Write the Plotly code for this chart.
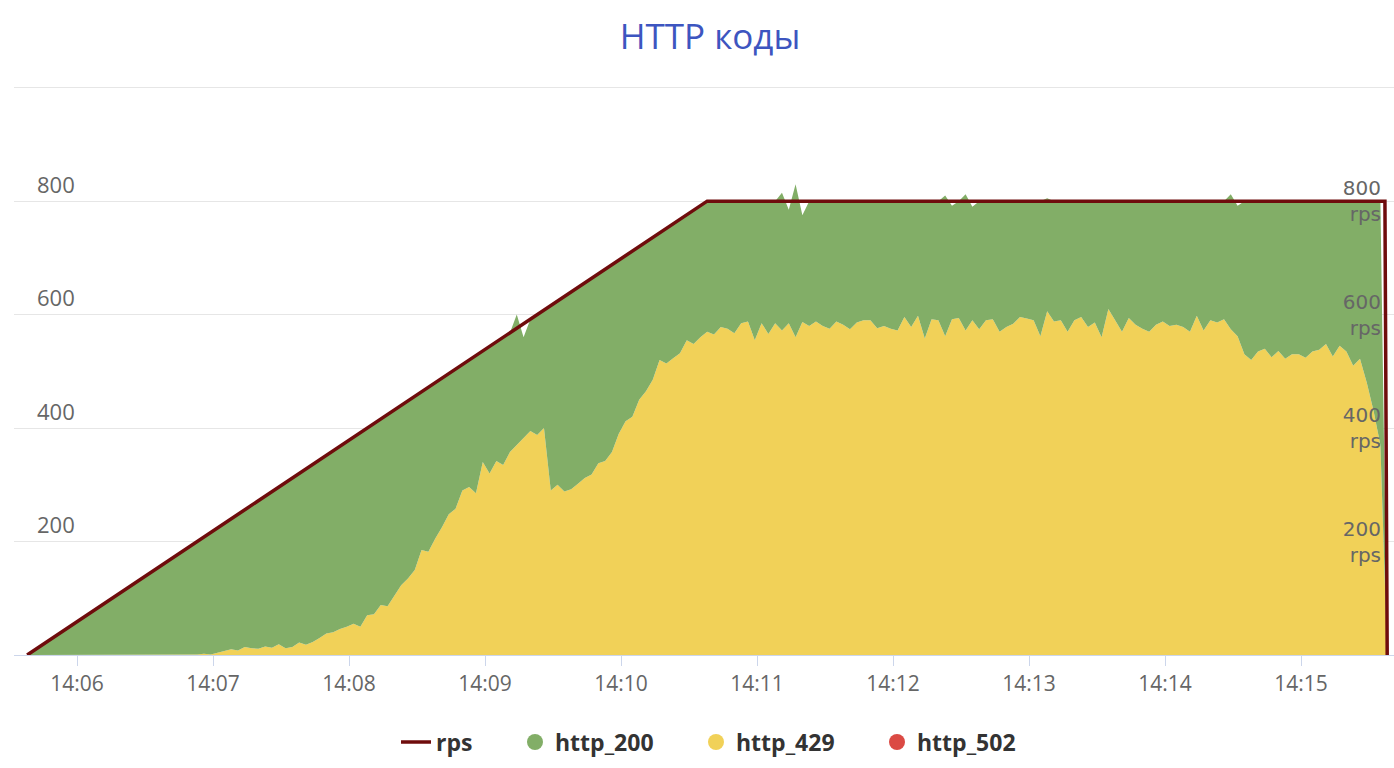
import pandas as pd
import plotly.graph_objects as go

DAY = "2024-01-01 "

# sample grid of the stacked series (every 3 s)
sample_times = pd.date_range(DAY + "14:05:38", periods=201, freq="3s")

http_429 = [
    0, 0, 0, 0, 0, 0, 0, 0, 0, 0,
    0, 0, 0, 0, 0, 0, 0, 0, 0, 0,
    0, 0, 0, 0, 0, 1, 2, 1, 4, 7,
    10, 8, 14, 12, 11, 15, 13, 19, 12, 14,
    22, 18, 23, 30, 38, 40, 46, 50, 55, 50,
    70, 72, 88, 86, 105, 123, 135, 150, 185, 182,
    205, 225, 248, 258, 290, 296, 285, 340, 320, 342,
    335, 358, 370, 382, 395, 388, 400, 290, 300, 288,
    292, 302, 312, 318, 338, 342, 358, 390, 412, 420,
    450, 465, 485, 520, 514, 523, 532, 555, 548, 560,
    570, 565, 578, 575, 567, 585, 588, 555, 585, 566,
    585, 572, 585, 560, 587, 580, 588, 580, 575, 588,
    582, 574, 586, 590, 590, 576, 580, 575, 572, 596,
    578, 598, 558, 592, 590, 562, 592, 594, 572, 590,
    574, 590, 592, 570, 578, 584, 596, 593, 590, 562,
    606, 588, 590, 570, 590, 596, 578, 586, 560, 610,
    590, 570, 594, 582, 575, 570, 582, 588, 580, 582,
    578, 570, 598, 572, 590, 586, 592, 574, 562, 530,
    520, 535, 540, 525, 536, 522, 530, 530, 524, 535,
    538, 548, 526, 545, 535, 510, 522, 480, 430, 370,
    0,
]

http_200 = [
    0, 8, 16, 24, 32, 40, 48, 56, 64, 72,
    80, 88, 96, 104, 112, 120, 128, 136, 144, 152,
    160, 168, 176, 184, 192, 199, 206, 215, 220, 225,
    230, 240, 242, 252, 261, 265, 275, 277, 292, 298,
    298, 310, 313, 314, 314, 320, 322, 326, 329, 342,
    330, 336, 328, 338, 327, 317, 313, 306, 279, 290,
    275, 263, 248, 246, 222, 224, 243, 196, 224, 210,
    225, 210, 230, 178, 197, 212, 208, 326, 324, 344,
    348, 346, 344, 346, 334, 338, 330, 306, 292, 292,
    270, 263, 251, 224, 238, 237, 236, 221, 236, 232,
    230, 235, 222, 225, 233, 215, 212, 245, 215, 234,
    215, 243, 200, 270, 188, 220, 212, 220, 225, 212,
    218, 226, 214, 210, 210, 224, 220, 225, 228, 204,
    222, 202, 242, 208, 210, 248, 200, 206, 240, 200,
    226, 210, 208, 230, 222, 216, 204, 207, 210, 238,
    199, 212, 210, 230, 210, 204, 222, 214, 240, 190,
    210, 230, 206, 218, 225, 230, 218, 212, 220, 218,
    222, 230, 202, 228, 210, 214, 208, 238, 230, 270,
    280, 265, 260, 275, 264, 278, 270, 270, 276, 265,
    262, 252, 274, 255, 265, 290, 278, 320, 370, 430,
    0,
]

http_502 = [0] * 201

rps_times = [DAY + "14:05:38", DAY + "14:10:38", DAY + "14:15:37", DAY + "14:15:38"]
rps_values = [0, 800, 800, 0]

left_ticks = [200, 400, 600, 800, 1000]
left_labels = ["200", "400", "600", "800", ""]
right_ticks = [200, 400, 600, 800]
right_labels = ["200<br>rps", "400<br>rps", "600<br>rps", "800<br>rps"]

GREEN = "#82ae67"
YELLOW = "#f1d158"
RED = "#db4a44"
DARKRED = "#6f0c0c"

fig = go.Figure()

fig.add_trace(go.Scatter(x=sample_times, y=http_429, stackgroup="codes", mode="lines",
                         line=dict(width=0, color=YELLOW), fillcolor=YELLOW,
                         showlegend=False, hoverinfo="skip"))
fig.add_trace(go.Scatter(x=sample_times, y=http_200, stackgroup="codes", mode="lines",
                         line=dict(width=0, color=GREEN), fillcolor=GREEN,
                         showlegend=False, hoverinfo="skip"))
fig.add_trace(go.Scatter(x=sample_times, y=http_502, stackgroup="codes", mode="lines",
                         line=dict(width=0, color=RED), fillcolor=RED,
                         showlegend=False, hoverinfo="skip"))
fig.add_trace(go.Scatter(x=rps_times, y=rps_values, mode="lines", name="rps",
                         legend="legend",
                         line=dict(width=3.5, color=DARKRED), hoverinfo="skip"))

# legend entries drawn as circles
for name, col in [("http_200", GREEN), ("http_429", YELLOW), ("http_502", RED)]:
    fig.add_trace(go.Scatter(x=[None], y=[None], mode="markers", name=name,
                             legend="legend2",
                             marker=dict(size=16, color=col, symbol="circle"),
                             hoverinfo="skip"))

# right axis (labels only)
fig.add_trace(go.Scatter(x=[None], y=[None], yaxis="y2", showlegend=False, hoverinfo="skip"))

legend_font = dict(family="Open Sans", size=23, color="#333333", weight="bold")

fig.update_layout(
    width=1394, height=768,
    margin=dict(l=14, r=0, t=86, b=113),
    paper_bgcolor="white", plot_bgcolor="white",
    title=dict(text="HTTP коды", x=(710 - 14) / 1380, xref="paper", xanchor="center",
               y=1 - 37 / 768, yanchor="middle",
               font=dict(family="Open Sans", size=35, color="#3d55c0")),
    xaxis=dict(type="date",
               range=[DAY + "14:05:32.2", DAY + "14:15:41"],
               tick0=DAY + "14:06:00", dtick=60000, tickformat="%H:%M",
               showgrid=False, zeroline=False,
               showline=True, linecolor="#ccd6eb", linewidth=1,
               ticks="outside", ticklen=10, tickcolor="#ccd6eb", tickwidth=1,
               tickfont=dict(family="Open Sans", size=21, color="#666666")),
    yaxis=dict(range=[0, 1003], tickvals=left_ticks, ticktext=left_labels,
               showgrid=True, gridcolor="#e6e6e6", gridwidth=1,
               zeroline=False, showline=False,
               ticklabelposition="inside", ticklabelstandoff=20, ticklabelshift=-16,
               tickfont=dict(family="Open Sans", size=22, color="#666666")),
    yaxis2=dict(range=[0, 1003], overlaying="y", side="right",
                tickvals=right_ticks, ticktext=right_labels,
                showgrid=False, zeroline=False, showline=False,
                ticklabelposition="inside", ticklabelstandoff=10,
                tickfont=dict(family="DejaVu Sans", size=20, color="#666666")),
    legend=dict(orientation="h", x=(396 - 14) / 1380, xanchor="left",
                y=-0.153, yanchor="middle", font=legend_font,
                itemclick=False, itemdoubleclick=False),
    legend2=dict(orientation="h", x=(515 - 14) / 1380, xanchor="left",
                 y=-0.153, yanchor="middle", font=legend_font,
                 traceorder="normal", entrywidth=136, entrywidthmode="pixels",
                 itemclick=False, itemdoubleclick=False),
    hovermode=False,
    showlegend=True,
)

fig.write_html("out.html")
